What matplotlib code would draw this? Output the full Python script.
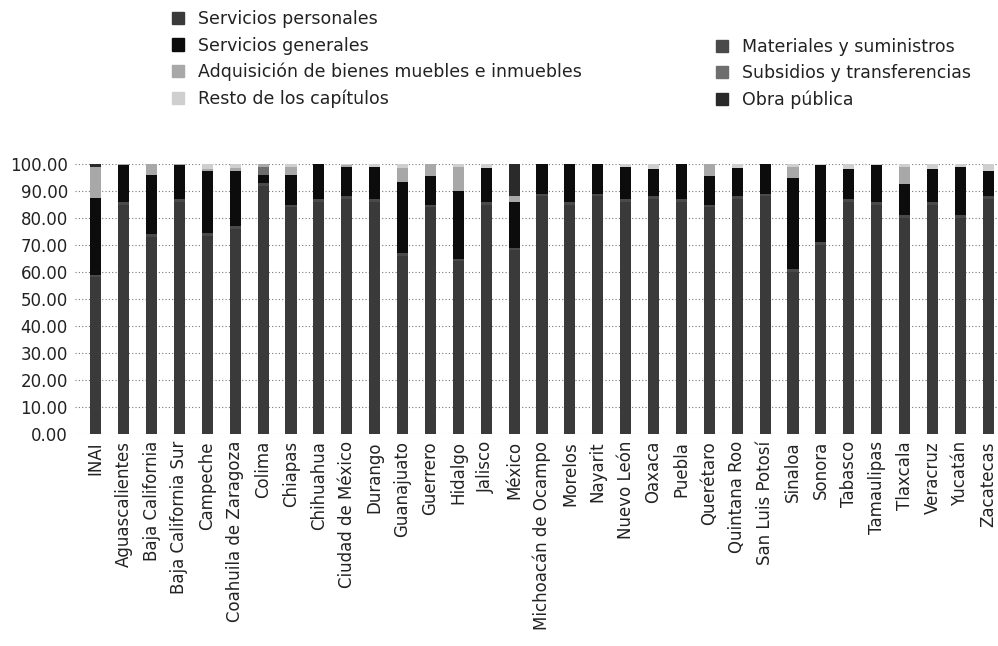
import matplotlib
matplotlib.use("Agg")
import matplotlib.pyplot as plt
import numpy as np
from matplotlib.patches import Patch

plt.rcParams["font.family"] = ["DejaVu Sans"]

estados = [
    "INAI", "Aguascalientes", "Baja California", "Baja California Sur", "Campeche",
    "Coahuila de Zaragoza", "Colima", "Chiapas", "Chihuahua", "Ciudad de México",
    "Durango", "Guanajuato", "Guerrero", "Hidalgo", "Jalisco", "México",
    "Michoacán de Ocampo", "Morelos", "Nayarit", "Nuevo León", "Oaxaca", "Puebla",
    "Querétaro", "Quintana Roo", "San Luis Potosí", "Sinaloa", "Sonora", "Tabasco",
    "Tamaulipas", "Tlaxcala", "Veracruz", "Yucatán", "Zacatecas",
]

# porcentajes por capítulo de gasto
servicios_personales = [58, 85, 73, 86, 73.5, 76, 92, 84, 86, 87, 86, 66, 84, 64, 85, 68,
                        88, 85, 88, 86, 87, 86, 84, 87, 88, 60, 70, 86, 85, 80, 85, 80, 87]
materiales = [1, 1, 1, 1, 1, 1, 1, 1, 1, 1, 1, 1, 1, 1, 1, 1,
              1, 1, 1, 1, 1, 1, 1, 1, 1, 1, 1, 1, 1, 1, 1, 1, 1]
servicios_generales = [28.5, 13.5, 22, 12.5, 23, 20.5, 3, 11, 13, 11, 12, 26.5, 10.5, 25, 12.5, 17,
                       11, 14, 11, 12, 10, 13, 10.5, 10.5, 11, 34, 28.5, 11, 13.5, 11.5, 12, 18, 9.5]
subsidios = [0, 0, 0, 0, 0, 0, 3, 0, 0, 0, 0, 0, 0, 0, 0, 0,
             0, 0, 0, 0, 0, 0, 0, 0, 0, 0, 0, 0, 0, 0, 0, 0, 0]
adquisicion = [11.5, 0.5, 4, 0.5, 0.5, 1, 1, 3, 0, 0.5, 0, 5, 4.5, 9, 0, 2,
               0, 0, 0, 0, 0, 0, 4.5, 0, 0, 4, 0, 0, 0, 6.5, 0, 0, 0]
obra_publica = [1, 0, 0, 0, 0, 0, 0, 0, 0, 0, 0, 0, 0, 0, 0, 12,
                0, 0, 0, 0, 0, 0, 0, 0, 0, 0, 0, 0, 0, 0, 0, 0, 0]
resto = [0, 0, 0, 0, 2, 1.5, 0, 1, 0, 0.5, 1, 1.5, 0, 1, 1.5, 0,
         0, 0, 0, 1, 2, 0, 0, 1.5, 0, 1, 0.5, 2, 0.5, 1, 2, 1, 2.5]

series = [
    ("Servicios personales", servicios_personales, "#3a3a3a"),
    ("Materiales y suministros", materiales, "#4a4a4a"),
    ("Servicios generales", servicios_generales, "#0c0c0c"),
    ("Subsidios y transferencias", subsidios, "#6e6e6e"),
    ("Adquisición de bienes muebles e inmuebles", adquisicion, "#a8a8a8"),
    ("Obra pública", obra_publica, "#2a2a2a"),
    ("Resto de los capítulos", resto, "#cfcfcf"),
]
colores = {nombre: c for nombre, _, c in series}
texto = "#222222"

fig = plt.figure(figsize=(9.98, 6.46), dpi=100)
ax = fig.add_axes([0.075, 0.328, 0.925, 0.418])

x = np.arange(len(estados))
base = np.zeros(len(estados))
for nombre, vals, color in series:
    vals = np.array(vals, dtype=float)
    ax.bar(x, vals, width=0.4, bottom=base, color=color, linewidth=0, zorder=2)
    base += vals

ax.set_ylim(0, 100)
ax.set_xlim(-0.75, len(estados) - 0.65)
ax.set_yticks(np.arange(0, 101, 10))
ax.set_yticklabels([f"{v:.2f}" for v in np.arange(0, 101, 10)], fontsize=12, color=texto)
ax.set_xticks(x)
ax.set_xticklabels(estados, rotation=90, fontsize=12, color=texto)
ax.tick_params(length=0, pad=5)
ax.grid(axis="y", linestyle=(0, (1, 2)), color="#777777", linewidth=0.8, zorder=0)
for s in ax.spines.values():
    s.set_visible(False)

izq = ["Servicios personales", "Servicios generales",
       "Adquisición de bienes muebles e inmuebles", "Resto de los capítulos"]
der = ["Materiales y suministros", "Subsidios y transferencias", "Obra pública"]

estilo = dict(frameon=False, fontsize=12.5, handlelength=0.72, handleheight=0.72,
              handletextpad=0.8, labelspacing=0.48, labelcolor=texto, borderaxespad=0)
fig.legend([Patch(color=colores[n]) for n in izq], izq, loc="upper left",
           bbox_to_anchor=(0.165, 0.995), **estilo)
fig.legend([Patch(color=colores[n]) for n in der], der, loc="upper left",
           bbox_to_anchor=(0.71, 0.952), **estilo)

fig.savefig("out.png", dpi=100)
